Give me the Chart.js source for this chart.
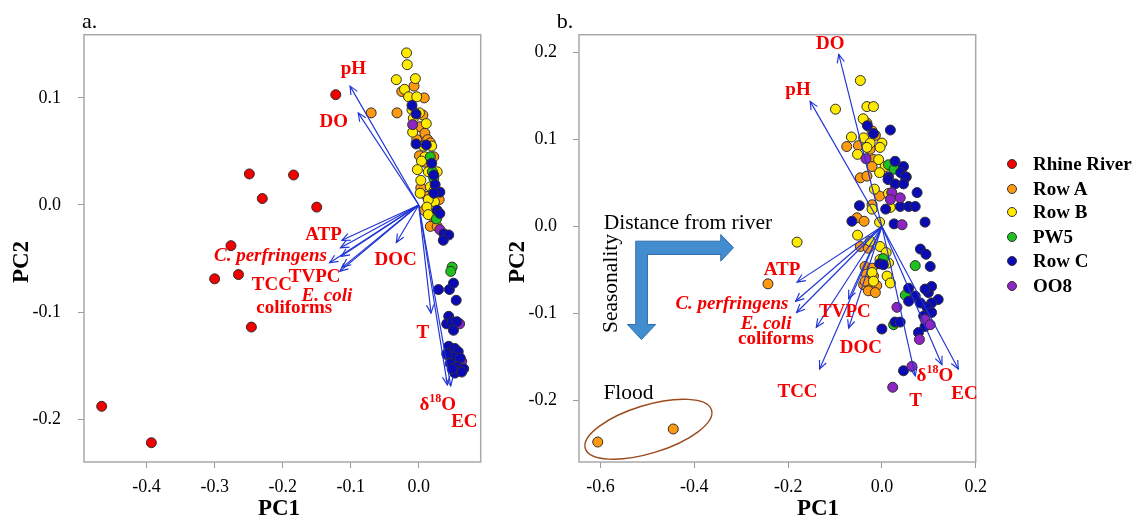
<!DOCTYPE html>
<html>
<head>
<meta charset="utf-8">
<script src="https://cdn.jsdelivr.net/npm/chart.js@4.4.1/dist/chart.umd.min.js"></script>
<style>
html,body{margin:0;padding:0;background:#fff;}
#wrap{position:relative;width:1139px;height:523px;overflow:hidden;background:#fff;font-family:'Liberation Serif','Times New Roman',serif;}
#ca{position:absolute;left:0;top:0;}
#cb{position:absolute;left:500px;top:0;}
.lrow{position:absolute;left:1033px;height:24px;line-height:24px;white-space:nowrap;font-weight:bold;font-size:19px;color:#000;}
.ldot{position:absolute;width:8px;height:8px;border:1px solid #333;border-radius:50%;}
</style>
</head>
<body>
<div id="wrap">
  <canvas id="ca" width="500" height="523"></canvas>
  <canvas id="cb" width="639" height="523"></canvas>
  <div id="legend"></div>
</div>
<script>
// ---------------- DATA ----------------
const groupNames = ['Rhine River', 'Row A', 'Row B', 'PW5', 'Row C', 'OO8'];
const groupColors = ['#F20000', '#FF9A10', '#FFEA00', '#1FC11F', '#0B0BB5', '#8E24C4'];

// Panel a scores (PC1, PC2)
const rhineA = [[-0.122,0.103],[-0.249,0.029],[-0.184,0.028],[-0.230,0.006],[-0.150,-0.002],[-0.276,-0.038],[-0.300,-0.069],[-0.265,-0.065],[-0.246,-0.114],[-0.466,-0.188],[-0.393,-0.222]];
const rowA_A = [[-0.070,0.086],[-0.032,0.086],[-0.025,0.106],[-0.007,0.111],[0.008,0.100],[0.006,0.084],[0.002,0.073],[0.009,0.067],[0.013,0.061],[0.017,0.058],[-0.003,0.061],[0.001,0.046],[0.009,0.040],[0.022,0.045],[0.003,0.016],[0.012,0.008],[0.030,0.005],[0.008,-0.005],[0.021,-0.011],[0.017,-0.020],[0.027,-0.020]];
const rowB_A = [[-0.018,0.142],[-0.017,0.131],[-0.033,0.117],[-0.005,0.118],[-0.021,0.108],[-0.015,0.101],[-0.003,0.101],[-0.010,0.089],[0.001,0.086],[-0.008,0.081],[0.011,0.076],[-0.009,0.068],[0.007,0.055],[0.019,0.055],[0.009,0.045],[0.004,0.041],[-0.002,0.033],[0.003,0.023],[0.014,0.031],[0.027,0.031],[0.017,0.017],[0.022,0.013],[0.002,0.011],[0.023,0.003],[0.014,0.005],[0.012,-0.002],[0.026,-0.008],[0.014,-0.009]];
const pw5_A = [[0.017,0.045],[0.020,0.031],[0.022,0.025],[0.026,-0.013],[0.049,-0.058],[0.047,-0.062]];
const rowC_A = [[-0.010,0.093],[-0.004,0.085],[-0.004,0.057],[0.011,0.056],[0.019,0.039],[0.022,0.028],[0.024,0.019],[0.031,0.012],[0.022,0.011],[0.027,-0.005],[0.031,-0.008],[0.037,-0.027],[0.044,-0.028],[0.036,-0.033],[0.029,-0.079],[0.045,-0.079],[0.051,-0.073],[0.055,-0.089],[0.044,-0.104],[0.041,-0.111],[0.049,-0.109],[0.056,-0.109],[0.051,-0.117],[0.044,-0.132],[0.053,-0.134],[0.058,-0.137],[0.051,-0.142],[0.061,-0.143],[0.046,-0.148],[0.056,-0.151],[0.066,-0.153],[0.053,-0.157],[0.063,-0.156],[0.041,-0.139],[0.049,-0.153]];
const oo8_A = [[-0.009,0.075],[0.031,-0.023],[0.060,-0.111],[0.042,-0.140],[0.063,-0.146],[0.058,-0.154]];

// Panel b scores (PC1, PC2)
const rowA_B = [[-0.606,-0.248],[-0.445,-0.233],[-0.243,-0.066],[-0.075,0.092],[-0.032,0.119],[-0.021,0.110],[-0.014,0.105],[-0.050,0.093],[-0.025,0.089],[-0.018,0.077],[-0.021,0.069],[-0.046,0.056],[-0.032,0.058],[-0.005,0.035],[-0.021,0.025],[-0.053,0.010],[-0.038,0.006],[-0.046,-0.023],[-0.029,-0.025],[-0.036,-0.046],[-0.021,-0.048],[-0.033,-0.055],[-0.018,-0.057],[-0.039,-0.067],[-0.025,-0.069],[-0.011,-0.068],[-0.029,-0.074],[-0.014,-0.076],[-0.036,-0.063]];
const rowB_B = [[-0.046,0.168],[-0.099,0.135],[-0.032,0.138],[-0.018,0.138],[-0.040,0.124],[-0.065,0.103],[-0.039,0.102],[-0.025,0.096],[-0.032,0.091],[0.000,0.096],[-0.004,0.091],[-0.052,0.083],[-0.007,0.077],[0.007,0.069],[-0.005,0.062],[-0.016,0.043],[0.014,0.038],[-0.021,0.020],[0.018,0.022],[-0.005,0.005],[-0.052,-0.010],[-0.004,-0.023],[0.009,-0.030],[-0.025,-0.017],[-0.181,-0.018],[-0.021,-0.053],[0.011,-0.057],[0.018,-0.065],[-0.004,-0.038],[0.014,-0.042],[-0.018,-0.063]];
const pw5_B = [[0.014,0.071],[0.032,0.069],[0.026,0.066],[0.003,-0.037],[0.071,-0.045],[0.050,-0.079],[0.025,-0.113]];
const rowC_B = [[-0.031,0.116],[-0.018,0.107],[0.018,0.111],[0.028,0.075],[0.046,0.069],[0.052,0.057],[0.014,0.057],[0.040,0.062],[0.013,0.054],[0.028,0.049],[0.050,0.057],[0.046,0.049],[0.075,0.039],[-0.048,0.024],[0.008,0.020],[0.039,0.023],[0.057,0.023],[0.071,0.023],[-0.064,0.006],[0.026,0.003],[0.092,0.005],[0.082,-0.026],[0.094,-0.032],[-0.005,-0.043],[0.103,-0.046],[0.003,-0.044],[0.057,-0.071],[0.071,-0.080],[0.057,-0.086],[0.082,-0.088],[0.099,-0.076],[0.106,-0.069],[0.092,-0.072],[0.120,-0.084],[0.106,-0.088],[0.096,-0.093],[0.106,-0.099],[0.089,-0.103],[0.092,-0.115],[0.078,-0.122],[0.000,-0.118],[0.028,-0.110],[0.039,-0.110],[0.046,-0.166]];
const oo8_B = [[-0.034,0.078],[0.021,0.039],[0.039,0.033],[0.018,0.031],[0.043,0.002],[0.032,-0.093],[0.092,-0.107],[0.103,-0.113],[0.080,-0.130],[0.064,-0.161],[0.023,-0.185]];

// Loadings (arrow tips) and label anchors
const loadingNames = ['pH','DO','ATP','C. perfringens','TVPC','TCC','E. coli','coliforms','DOC','T','δ18O','EC'];
const italicNames = ['C. perfringens','E. coli'];
const loadA_x = [-0.101,-0.089,-0.113,-0.131,-0.116,-0.114,-0.112,-0.115,-0.033,0.018,0.042,0.047];
const loadA_y = [0.111,0.086,-0.033,-0.054,-0.062,-0.048,-0.058,-0.040,-0.035,-0.101,-0.168,-0.169];
const labA_x = [-0.096,-0.125,-0.140,-0.218,-0.153,-0.216,-0.135,-0.183,-0.034,0.006,0.028,0.067];
const labA_y = [0.127,0.077,-0.028,-0.048,-0.067,-0.075,-0.085,-0.096,-0.051,-0.120,-0.187,-0.203];
const loadB_x = [-0.153,-0.092,-0.181,-0.184,-0.071,-0.133,-0.182,-0.140,-0.071,0.071,0.128,0.163];
const loadB_y = [0.144,0.198,-0.064,-0.086,-0.083,-0.164,-0.099,-0.116,-0.117,-0.172,-0.159,-0.164];
const labB_x = [-0.179,-0.110,-0.213,-0.320,-0.079,-0.180,-0.247,-0.226,-0.045,0.072,0.113,0.176];
const labB_y = [0.157,0.210,-0.050,-0.089,-0.098,-0.191,-0.112,-0.130,-0.140,-0.201,-0.172,-0.193];

// Axis ticks
const xTicksA = [-0.4,-0.3,-0.2,-0.1,0.0];
const yTicksA = [-0.2,-0.1,0.0,0.1];
const xTicksB = [-0.6,-0.4,-0.2,0.0,0.2];
const yTicksB = [-0.2,-0.1,0.0,0.1,0.2];

// Annotation anchors in panel b (data units)
const floodCenterB = [-0.498,-0.2333];
const seasonAnchorB = [-0.525,-0.0169];

// ---------------- STYLE ----------------
const SERIF = "'Liberation Serif','Times New Roman',serif";
const ARROW_COLOR = '#1E33D4';
const LABEL_COLOR = '#F50000';
const POINT_EDGE = '#2e2e2e';

function scatterDS(label, pts, color, order) {
  return { label, data: pts.map(p => ({x: p[0], y: p[1]})), backgroundColor: color,
    borderColor: POINT_EDGE, borderWidth: 1, pointRadius: 5, pointHoverRadius: 5, order };
}
function arrowDatasets(lx, ly) {
  return lx.map((x, i) => ({ label: loadingNames[i], data: [{x: 0, y: 0}, {x: x, y: ly[i]}],
    showLine: true, borderColor: ARROW_COLOR, borderWidth: 1.15, pointRadius: 0, pointHoverRadius: 0, fill: false, order: 0 }));
}

function drawVarLabel(ctx, name, x, y) {
  const italic = italicNames.includes(name);
  const f = (italic ? 'italic ' : '') + 'bold 19px ' + SERIF;
  ctx.fillStyle = LABEL_COLOR;
  ctx.textBaseline = 'middle';
  if (name === 'δ18O') {
    const fs = 'bold 12px ' + SERIF;
    ctx.font = f; const w1 = ctx.measureText('δ').width, w3 = ctx.measureText('O').width;
    ctx.font = fs; const w2 = ctx.measureText('18').width;
    let sx = x - (w1 + w2 + w3) / 2;
    ctx.textAlign = 'left';
    ctx.font = f; ctx.fillText('δ', sx, y);
    ctx.font = fs; ctx.fillText('18', sx + w1, y - 6);
    ctx.font = f; ctx.fillText('O', sx + w1 + w2, y);
  } else {
    ctx.font = f; ctx.textAlign = 'center';
    ctx.fillText(name, x, y);
  }
}

function makePlugin(cfg) {
  return {
    id: 'biplot_' + cfg.name,
    beforeDatasetsDraw(chart) {
      const ctx = chart.ctx, a = chart.chartArea;
      ctx.save();
      ctx.strokeStyle = '#a8a8a8'; ctx.lineWidth = 1.5;
      ctx.strokeRect(a.left, a.top, a.right - a.left, a.bottom - a.top);
      ctx.restore();
      if (cfg.extraBefore) cfg.extraBefore(chart);
    },
    afterDatasetsDraw(chart) {
      const ctx = chart.ctx, sx = chart.scales.x, sy = chart.scales.y;
      const x0 = sx.getPixelForValue(0), y0 = sy.getPixelForValue(0);
      ctx.save();
      ctx.strokeStyle = ARROW_COLOR; ctx.lineWidth = 1.15;
      cfg.tipX.forEach((tx, i) => {
        const x1 = sx.getPixelForValue(tx), y1 = sy.getPixelForValue(cfg.tipY[i]);
        const ang = Math.atan2(y1 - y0, x1 - x0), L = 9, w = 0.42;
        ctx.beginPath();
        ctx.moveTo(x1 - L * Math.cos(ang - w), y1 - L * Math.sin(ang - w));
        ctx.lineTo(x1, y1);
        ctx.lineTo(x1 - L * Math.cos(ang + w), y1 - L * Math.sin(ang + w));
        ctx.stroke();
      });
      loadingNames.forEach((n, i) => drawVarLabel(ctx, n, sx.getPixelForValue(cfg.labX[i]), sy.getPixelForValue(cfg.labY[i])));
      ctx.restore();
    },
    afterDraw(chart) {
      const ctx = chart.ctx;
      ctx.save();
      ctx.fillStyle = '#000';
      ctx.font = 'bold 23px ' + SERIF;
      ctx.textAlign = 'center'; ctx.textBaseline = 'middle';
      ctx.fillText('PC1', cfg.xTitle[0], cfg.xTitle[1]);
      ctx.save();
      ctx.translate(cfg.yTitle[0], cfg.yTitle[1]);
      ctx.rotate(-Math.PI / 2);
      ctx.fillText('PC2', 0, 0);
      ctx.restore();
      ctx.font = '22px ' + SERIF;
      ctx.textAlign = 'left'; ctx.textBaseline = 'alphabetic';
      ctx.fillText(cfg.letter, cfg.letterPos[0], cfg.letterPos[1]);
      ctx.restore();
      if (cfg.extraAfter) cfg.extraAfter(chart);
    }
  };
}

function axisOpts(min, max, ticks, isX, fitSize, pad) {
  return {
    type: 'linear', min, max,
    afterBuildTicks: s => { s.ticks = ticks.map(v => ({value: v})); },
    afterFit: s => { if (isX) s.height = fitSize; else s.width = fitSize; },
    ticks: { font: {family: SERIF, size: 18}, color: '#000', padding: pad, autoSkip: false, maxRotation: 0,
      callback: v => (Math.abs(v) < 1e-9 ? 0 : v).toFixed(1) },
    grid: { drawOnChartArea: false, drawTicks: true, tickLength: 6, color: '#9a9a9a', lineWidth: 1 },
    border: { display: false }
  };
}

function baseOptions(padRight, xr, yr, xt, yt, yWidth, yPad) {
  return {
    responsive: false, animation: false, events: [],
    layout: { padding: { left: 0, top: 34.7, right: padRight, bottom: 0 } },
    plugins: { legend: { display: false }, tooltip: { enabled: false } },
    scales: {
      x: axisOpts(xr[0], xr[1], xt, true, 61, 8),
      y: axisOpts(yr[0], yr[1], yt, false, yWidth, yPad)
    }
  };
}

// ---------------- PANEL A ----------------
new Chart(document.getElementById('ca'), {
  type: 'scatter',
  data: { datasets: [
    ...arrowDatasets(loadA_x, loadA_y),
    scatterDS(groupNames[0], rhineA, groupColors[0], 1),
    scatterDS(groupNames[4], rowC_A, groupColors[4], 2),
    scatterDS(groupNames[5], oo8_A, groupColors[5], 3),
    scatterDS(groupNames[3], pw5_A, groupColors[3], 4),
    scatterDS(groupNames[2], rowB_A, groupColors[2], 5),
    scatterDS(groupNames[1], rowA_A, groupColors[1], 6)
  ]},
  options: baseOptions(19.3, [-0.492, 0.091], [-0.240, 0.159], xTicksA, yTicksA, 84, 17),
  plugins: [makePlugin({ name: 'a', tipX: loadA_x, tipY: loadA_y, labX: labA_x, labY: labA_y,
    xTitle: [279, 509], yTitle: [22, 262], letter: 'a.', letterPos: [82, 28] })]
});

// ---------------- PANEL B ----------------
function drawPanelBBefore(chart) {
  const ctx = chart.ctx, sx = chart.scales.x, sy = chart.scales.y;
  const cx = sx.getPixelForValue(floodCenterB[0]), cy = sy.getPixelForValue(floodCenterB[1]);
  ctx.save();
  ctx.strokeStyle = '#9B4A1C'; ctx.lineWidth = 1.4;
  ctx.beginPath();
  ctx.ellipse(cx, cy, 66, 24, -17 * Math.PI / 180, 0, Math.PI * 2);
  ctx.stroke();
  const ax = sx.getPixelForValue(seasonAnchorB[0]), ay = sy.getPixelForValue(seasonAnchorB[1]);
  const shape = [[0,0],[85,0],[85,-6.7],[97.7,6.6],[85,20],[85,13.3],[11.7,13.3],[11.7,83.3],[20,83.3],[5.7,98.3],[-8.3,83.3],[0,83.3]];
  ctx.beginPath();
  shape.forEach((p, i) => { if (i === 0) ctx.moveTo(ax + p[0], ay + p[1]); else ctx.lineTo(ax + p[0], ay + p[1]); });
  ctx.closePath();
  ctx.fillStyle = '#428CD0'; ctx.fill();
  ctx.strokeStyle = '#2F6EAC'; ctx.lineWidth = 1; ctx.stroke();
  ctx.restore();
}
function drawPanelBAfter(chart) {
  const ctx = chart.ctx, sx = chart.scales.x, sy = chart.scales.y;
  const cx = sx.getPixelForValue(floodCenterB[0]), cy = sy.getPixelForValue(floodCenterB[1]);
  const ax = sx.getPixelForValue(seasonAnchorB[0]), ay = sy.getPixelForValue(seasonAnchorB[1]);
  ctx.save();
  ctx.fillStyle = '#000';
  ctx.font = '21.5px ' + SERIF;
  ctx.textAlign = 'left'; ctx.textBaseline = 'alphabetic';
  ctx.fillText('Distance from river', ax - 32, ay - 12.4);
  ctx.fillText('Flood', cx - 45, cy - 30.7);
  ctx.translate(ax - 18.3, ay + 42.3);
  ctx.rotate(-Math.PI / 2);
  ctx.textAlign = 'center';
  ctx.fillText('Seasonality', 0, 0);
  ctx.restore();
}

new Chart(document.getElementById('cb'), {
  type: 'scatter',
  data: { datasets: [
    ...arrowDatasets(loadB_x, loadB_y),
    scatterDS(groupNames[5], oo8_B, groupColors[5], 1),
    scatterDS(groupNames[4], rowC_B, groupColors[4], 2),
    scatterDS(groupNames[3], pw5_B, groupColors[3], 3),
    scatterDS(groupNames[2], rowB_B, groupColors[2], 4),
    scatterDS(groupNames[1], rowA_B, groupColors[1], 5)
  ]},
  options: baseOptions(163.3, [-0.646, 0.2], [-0.271, 0.2207], xTicksB, yTicksB, 79, 16),
  plugins: [makePlugin({ name: 'b', tipX: loadB_x, tipY: loadB_y, labX: labB_x, labY: labB_y,
    xTitle: [318, 509], yTitle: [18, 262], letter: 'b.', letterPos: [56.7, 28],
    extraBefore: drawPanelBBefore, extraAfter: drawPanelBAfter })]
});

// ---------------- LEGEND ----------------
const legendRowsY = [164, 188.5, 212, 236.5, 260.5, 285.5];
const leg = document.getElementById('legend');
groupNames.forEach((n, i) => {
  const d = document.createElement('div');
  d.className = 'ldot';
  d.style.left = (1012.3 - 5) + 'px';
  d.style.top = (legendRowsY[i] - 5) + 'px';
  d.style.background = groupColors[i];
  leg.appendChild(d);
  const t = document.createElement('div');
  t.className = 'lrow';
  t.style.top = (legendRowsY[i] - 12) + 'px';
  t.textContent = n;
  leg.appendChild(t);
});
</script>
</body>
</html>
